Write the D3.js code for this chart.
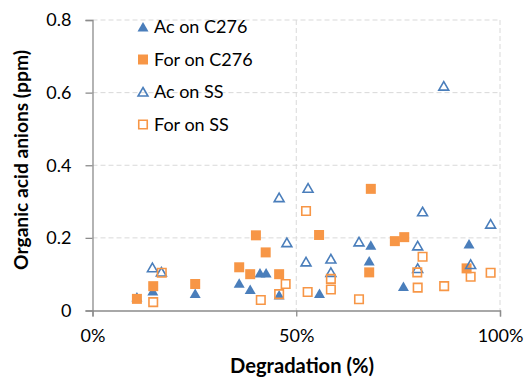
<!DOCTYPE html>
<html>
<head>
<meta charset="utf-8">
<script src="https://cdn.jsdelivr.net/npm/d3@7"></script>
<style>
  body { margin: 0; background: #fff; }
  svg { font-family: Lato, "Open Sans", sans-serif; }
</style>
</head>
<body>
<svg id="chart" width="526" height="379"></svg>
<script>
// degradation (%) and anion concentration (ppm)
const acC276 = [
    [10.9, 0.037], [14.8, 0.054], [25.2, 0.047], [36.0, 0.075], [38.7, 0.058],
    [41.1, 0.103], [42.6, 0.103], [45.8, 0.043], [55.7, 0.047], [68.3, 0.180],
    [67.9, 0.136], [76.3, 0.066], [92.4, 0.183]
];
const forC276 = [
    [10.9, 0.032], [14.9, 0.067], [25.2, 0.073], [36.0, 0.119], [38.7, 0.100],
    [40.1, 0.207], [42.5, 0.160], [45.8, 0.100], [55.6, 0.208], [68.3, 0.335],
    [67.9, 0.105], [74.2, 0.191], [76.5, 0.202], [91.8, 0.116]
];
const acSS = [
    [14.7, 0.118], [16.9, 0.106], [45.8, 0.311], [47.7, 0.187], [52.9, 0.337],
    [52.4, 0.134], [58.5, 0.142], [58.5, 0.105], [65.4, 0.189], [86.2, 0.618],
    [81.0, 0.272], [79.8, 0.178], [79.8, 0.116], [92.8, 0.127], [97.7, 0.238]
];
const forSS = [
    [14.9, 0.023], [17.0, 0.104], [41.3, 0.029], [45.8, 0.045], [47.4, 0.073],
    [52.8, 0.051], [52.4, 0.274], [58.5, 0.087], [58.5, 0.058], [65.4, 0.031],
    [79.7, 0.105], [79.8, 0.063], [81.0, 0.148], [86.3, 0.067], [92.8, 0.093],
    [97.7, 0.104]
];
const seriesNames = ["Ac on C276", "For on C276", "Ac on SS", "For on SS"];
const xTicks = [0, 50, 100];
const yTicks = [0, 0.2, 0.4, 0.6, 0.8];

const blue = "#4a7ebb", orange = "#f79646", axisGray = "#8c8c8c", gridGray = "#d9d9d9";

const svg = d3.select("#chart");
const margin = {top: 20, right: 26, bottom: 68.5, left: 92.5},
    width = 526 - margin.left - margin.right,
    height = 379 - margin.top - margin.bottom;

const x = d3.scaleLinear().domain([0, 100]).range([0, width]);
const y = d3.scaleLinear().domain([0, 0.8]).range([height, 0]);

const chart = svg.append("g")
    .attr("transform", `translate(${margin.left},${margin.top})`);

// gridlines
chart.append("g").selectAll("line")
    .data(yTicks.filter(d => d > 0))
    .join("line")
    .attr("x1", 0).attr("x2", width)
    .attr("y1", d => y(d)).attr("y2", d => y(d))
    .attr("stroke", gridGray).attr("stroke-dasharray", "5,3");
chart.append("g").selectAll("line")
    .data(xTicks.filter(d => d > 0))
    .join("line")
    .attr("x1", d => x(d)).attr("x2", d => x(d))
    .attr("y1", 0).attr("y2", height)
    .attr("stroke", gridGray).attr("stroke-dasharray", "5,3");

// axes
const yAxis = chart.append("g")
    .call(d3.axisLeft(y).tickValues(yTicks).tickSize(7).tickPadding(14).tickFormat(d => d === 0 ? "0" : d3.format(".1f")(d)));
const xAxis = chart.append("g")
    .attr("transform", `translate(0,${height})`)
    .call(d3.axisBottom(x).tickValues(xTicks).tickSize(6).tickPadding(13).tickFormat(d => d + "%"));
[yAxis, xAxis].forEach(a => {
    a.select(".domain").attr("stroke", axisGray).attr("stroke-width", 1.3);
    a.selectAll(".tick line").attr("stroke", axisGray).attr("stroke-width", 1.3);
    a.selectAll(".tick text").attr("font-size", 18).attr("fill", "#000")
        .attr("font-family", "Lato, sans-serif");
});

// markers
const tri = s => `M0,${-s * 0.5}L${s * 0.55},${s * 0.45}L${-s * 0.55},${s * 0.45}Z`;
const sq = s => `M${-s / 2},${-s / 2}h${s}v${s}h${-s}Z`;
const styles = [
    {data: acC276, path: tri(10), fill: blue, stroke: "none"},
    {data: forC276, path: sq(10), fill: orange, stroke: "none"},
    {data: acSS, path: tri(9), fill: "none", stroke: blue},
    {data: forSS, path: sq(8.5), fill: "none", stroke: orange}
];
styles.forEach(st => {
    chart.append("g").selectAll("path")
        .data(st.data)
        .join("path")
        .attr("transform", d => `translate(${x(d[0])},${y(d[1])})`)
        .attr("d", st.path)
        .attr("fill", st.fill)
        .attr("stroke", st.stroke)
        .attr("stroke-width", 1.6);
});

// legend
const legend = svg.append("g").attr("transform", "translate(143,27)");
const item = legend.selectAll("g")
    .data(seriesNames)
    .join("g")
    .attr("transform", (d, i) => `translate(0,${i * 32.5})`);
item.append("path")
    .attr("d", (d, i) => i % 2 === 0 ? tri(i === 0 ? 10 : 9) : sq(i === 1 ? 10 : 8.5))
    .attr("fill", (d, i) => styles[i].fill)
    .attr("stroke", (d, i) => styles[i].stroke)
    .attr("stroke-width", 1.6);
item.append("text")
    .attr("x", 11)
    .attr("dy", "0.35em")
    .attr("font-size", 18)
    .text(d => d);

// axis titles, sized to the widths they take in the original
function fitTitle(sel, target) {
    const w = sel.node().getComputedTextLength();
    sel.attr("font-size", 17 * target / w);
}
const xTitle = svg.append("text")
    .attr("x", 302)
    .attr("y", 373)
    .attr("text-anchor", "middle")
    .attr("font-weight", "bold")
    .attr("font-size", 17)
    .text("Degradation (%)");
fitTitle(xTitle, 144);
const yTitle = svg.append("text")
    .attr("transform", "translate(28,160) rotate(-90)")
    .attr("text-anchor", "middle")
    .attr("font-weight", "bold")
    .attr("font-size", 17)
    .text("Organic acid anions (ppm)");
fitTitle(yTitle, 220);
</script>
</body>
</html>
